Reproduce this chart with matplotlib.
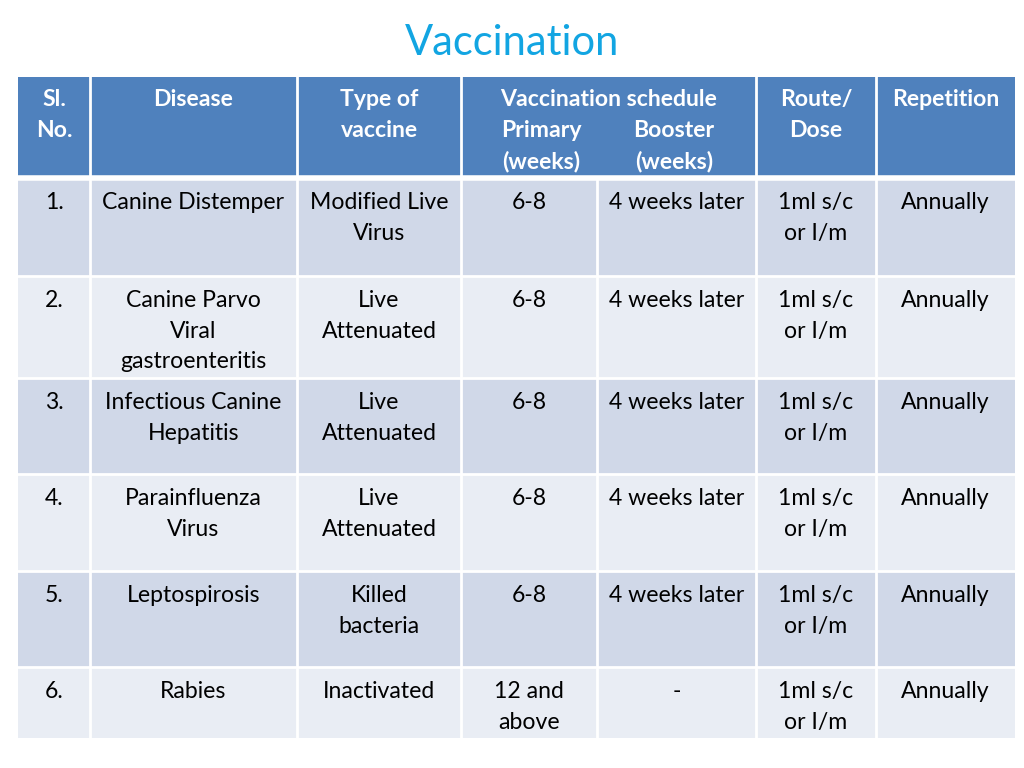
import matplotlib
matplotlib.use("Agg")
import matplotlib.pyplot as plt
from matplotlib.patches import Rectangle

plt.rcParams["font.family"] = ["Lato", "DejaVu Sans"]

title = "Vaccination"

serial = ["1.", "2.", "3.", "4.", "5.", "6."]
diseases = ["Canine Distemper", "Canine Parvo\nViral\ngastroenteritis",
            "Infectious Canine\nHepatitis", "Parainfluenza\nVirus",
            "Leptospirosis", "Rabies"]
vaccine_types = ["Modified Live\nVirus", "Live\nAttenuated", "Live\nAttenuated",
                 "Live\nAttenuated", "Killed\nbacteria", "Inactivated"]
primary = ["6-8", "6-8", "6-8", "6-8", "6-8", "12 and\nabove"]
booster = ["4 weeks later", "4 weeks later", "4 weeks later",
           "4 weeks later", "4 weeks later", "-"]
route = ["1ml s/c\nor I/m"] * 6
repetition = ["Annually"] * 6

# header text per body column (schedule spans columns 3 and 4)
headers = {0: "Sl.\nNo.", 1: "Disease", 2: "Type of\nvaccine",
           5: "Route/\nDose", 6: "Repetition"}
schedule_header = "Vaccination schedule"
primary_header = "Primary\n(weeks)"
booster_header = "Booster\n(weeks)"

# layout in pixels
col_edges = [18, 90, 297, 461, 597, 756, 876, 1015]
row_edges = [77, 178, 276, 378, 474, 571, 667, 738]

header_color = "#4F81BD"
row_colors = ["#D0D8E8", "#E9EDF4"]
fs = 16.6
ls = 1.56
pad = 12

fig = plt.figure(figsize=(10.24, 7.68), dpi=100)
ax = fig.add_axes([0, 0, 1, 1])
ax.set_xlim(0, 1024)
ax.set_ylim(768, 0)
ax.axis("off")

ax.text(512, 43, title, ha="center", va="center", fontsize=30, color="#12A5E2")

# header background
ax.add_patch(Rectangle((col_edges[0], row_edges[0]), col_edges[-1] - col_edges[0],
                       row_edges[1] - row_edges[0], facecolor=header_color,
                       edgecolor="none"))
for i, x in enumerate(col_edges[1:-1], start=1):
    if i == 4:
        continue
    ax.plot([x, x], [row_edges[0], row_edges[1]], color="white", lw=2)

hstyle = dict(ha="center", va="top", fontsize=fs, color="white",
              fontweight="bold", linespacing=ls)
for ci, label in headers.items():
    cx = (col_edges[ci] + col_edges[ci + 1]) / 2
    ax.text(cx, row_edges[0] + pad, label, **hstyle)

sched_cx = (col_edges[3] + col_edges[5]) / 2
ax.text(sched_cx, row_edges[0] + pad, schedule_header, **hstyle)
ax.text(541, row_edges[0] + pad + 31, primary_header, **hstyle)
ax.text(674, row_edges[0] + pad + 31, booster_header, **hstyle)

columns = [serial, diseases, vaccine_types, primary, booster, route, repetition]
for r in range(len(serial)):
    y0, y1 = row_edges[r + 1], row_edges[r + 2]
    ax.add_patch(Rectangle((col_edges[0], y0), col_edges[-1] - col_edges[0], y1 - y0,
                           facecolor=row_colors[r % 2], edgecolor="none"))
    for c, col in enumerate(columns):
        cx = (col_edges[c] + col_edges[c + 1]) / 2
        ax.text(cx, y0 + pad + 2, col[r], ha="center", va="top", fontsize=fs,
                color="black", linespacing=ls)

# grid lines in body
for x in col_edges[1:-1]:
    ax.plot([x, x], [row_edges[1], row_edges[-1]], color="white", lw=2)
ax.plot([col_edges[0], col_edges[-1]], [row_edges[1], row_edges[1]], color="white", lw=4)
for y in row_edges[2:-1]:
    ax.plot([col_edges[0], col_edges[-1]], [y, y], color="white", lw=2)

fig.savefig("out.png", dpi=100)
